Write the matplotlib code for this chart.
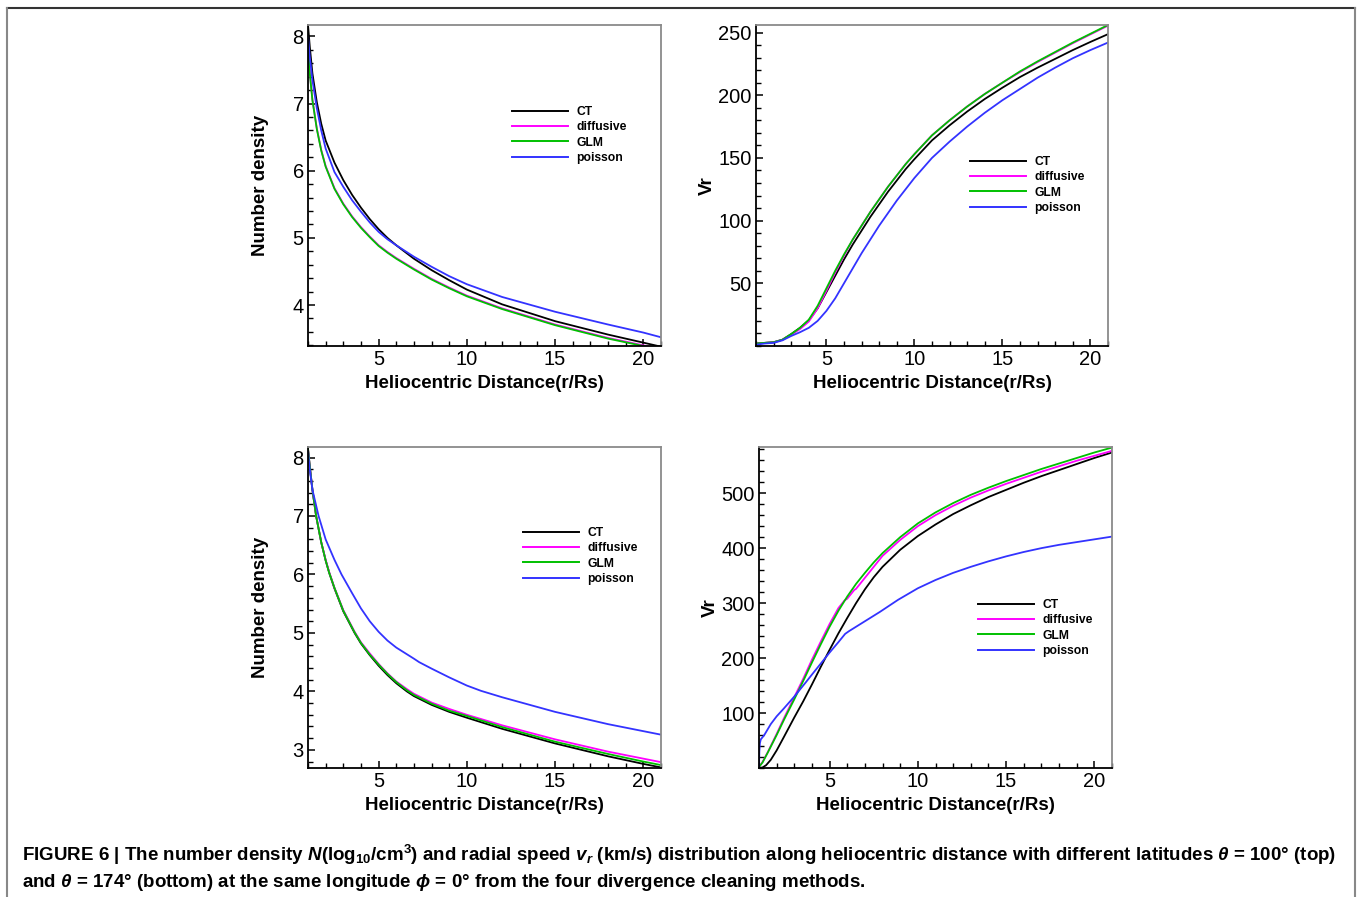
import matplotlib
matplotlib.use('Agg')
import matplotlib.pyplot as plt
from matplotlib.ticker import MultipleLocator, FixedLocator
from matplotlib.lines import Line2D

plt.rcParams['font.family'] = ['Liberation Sans', 'DejaVu Sans']
plt.rcParams['mathtext.fontset'] = 'custom'
plt.rcParams['mathtext.rm'] = 'Liberation Sans:bold'
plt.rcParams['mathtext.it'] = 'Liberation Sans:italic:bold'
plt.rcParams['mathtext.bf'] = 'Liberation Sans:bold'

methods = ['CT', 'diffusive', 'GLM', 'poisson']
colors = ['black', '#ff00ff', '#00c000', '#3333ff']

# ---- top left: number density, theta = 100
r_n100 = [1, 1.1, 1.25, 1.5, 1.75, 2, 2.5, 3, 3.5, 4, 4.5, 5, 5.5, 6, 7, 8, 9, 10, 12, 15, 18, 20, 21]
n100_ct = [8.17, 7.85, 7.45, 7.02, 6.7, 6.45, 6.12, 5.86, 5.64, 5.45, 5.28, 5.13, 5.0, 4.89, 4.69, 4.52, 4.37, 4.23, 4.01, 3.76, 3.56, 3.44, 3.38]
n100_di = [7.86, 7.46, 7.06, 6.63, 6.31, 6.07, 5.74, 5.51, 5.32, 5.16, 5.02, 4.89, 4.79, 4.70, 4.54, 4.39, 4.26, 4.14, 3.95, 3.71, 3.51, 3.40, 3.34]
n100_gl = [7.85, 7.45, 7.05, 6.62, 6.3, 6.06, 5.73, 5.5, 5.31, 5.15, 5.01, 4.88, 4.78, 4.69, 4.53, 4.38, 4.25, 4.13, 3.94, 3.7, 3.5, 3.39, 3.33]
n100_po = [8.0, 7.7, 7.35, 6.93, 6.6, 6.33, 5.98, 5.76, 5.56, 5.39, 5.23, 5.09, 4.98, 4.89, 4.72, 4.57, 4.43, 4.31, 4.12, 3.9, 3.71, 3.59, 3.52]

# ---- top right: radial speed, theta = 100
r_v100 = [1, 1.5, 2, 2.5, 3, 3.5, 4, 4.5, 5, 5.5, 6, 6.5, 7, 7.5, 8, 8.5, 9, 9.5, 10,
          11, 12, 13, 14, 15, 16, 17, 18, 19, 20, 21]
v100_ct = [2, 2.5, 3, 5, 9.5, 14.5, 20.5, 30, 43, 56, 69, 81, 92, 103, 113, 123, 132, 141, 149,
           164, 176, 187, 197, 206, 214.5, 222, 229, 236, 242.5, 248.7]
v100_di = [2, 2.5, 3, 5, 9, 13.5, 19.5, 30, 44, 58.5, 72, 85, 96, 107, 117, 127, 136, 145, 153,
           168, 180, 191, 201, 210, 218.5, 226.5, 234, 241.5, 248.5, 255.5]
v100_gl = [2, 2.5, 3, 5, 9.5, 14.5, 21, 32, 46, 60, 73, 85, 96, 107, 117, 127, 136, 145, 153,
           168, 180, 191, 201, 210, 219, 227, 234.5, 242, 249, 256]
v100_po = [1, 2, 2.5, 4.5, 8, 11, 14.5, 20, 28, 38, 50, 62, 74, 85, 96, 106, 116, 125, 134,
           150, 163, 175, 186, 196, 205, 214, 222, 229.5, 236, 242]

# ---- bottom left: number density, theta = 174
r_n174 = [1, 1.1, 1.25, 1.46, 1.75, 2, 2.2, 2.5, 3, 3.64, 4, 4.5, 5, 5.5, 6, 6.6, 7, 8, 9, 10, 12, 15, 18, 20, 21]
n174_ct = [8.15, 7.85, 7.45, 7.0, 6.55, 6.24, 6.03, 5.76, 5.37, 5.0, 4.82, 4.62, 4.44, 4.28, 4.14, 4.0, 3.92, 3.77, 3.65, 3.55, 3.36, 3.11, 2.89, 2.76, 2.70]
n174_di = [8.15, 7.85, 7.45, 7.0, 6.55, 6.25, 6.04, 5.77, 5.39, 5.02, 4.84, 4.65, 4.47, 4.31, 4.17, 4.04, 3.96, 3.81, 3.70, 3.60, 3.42, 3.18, 2.97, 2.85, 2.79]
n174_gl = [8.15, 7.85, 7.45, 7.0, 6.55, 6.24, 6.03, 5.77, 5.38, 5.01, 4.83, 4.63, 4.46, 4.30, 4.16, 4.02, 3.94, 3.79, 3.67, 3.58, 3.39, 3.14, 2.93, 2.80, 2.74]
r_n174_po = [1, 1.1, 1.25, 1.6, 2, 2.5, 2.9, 3.5, 4, 4.5, 5, 5.5, 6, 7, 7.3, 8, 9, 10, 10.8, 12, 15, 18, 20, 21]
n174_po = [8.1, 7.8, 7.45, 7.0, 6.6, 6.25, 6.0, 5.68, 5.42, 5.2, 5.02, 4.87, 4.75, 4.56, 4.5, 4.39, 4.24, 4.1, 4.01, 3.9, 3.65, 3.44, 3.32, 3.26]

# ---- bottom right: radial speed, theta = 174
r_v174_ct = [1, 1.2, 1.4, 1.67, 2, 2.42, 3, 3.5, 4, 4.5, 5, 5.5, 6, 6.5, 7, 7.5, 8, 9, 10,
             11, 12, 13, 14, 15, 16, 17, 18, 19, 20, 21]
v174_ct = [0, 1, 5, 15, 32, 57, 92, 121, 152, 184, 215, 245, 273, 300, 325, 347, 366, 397, 422,
           443, 462, 478, 493, 506, 519, 531, 542, 553, 564, 574]
r_v174_gl = [1, 1.2, 1.48, 2, 2.42, 3, 3.5, 4, 4.5, 5, 5.5, 6, 6.5, 7, 7.5, 8, 9, 10,
             11, 12, 13, 14, 15, 16, 17, 18, 19, 20, 21]
v174_gl = [2, 10, 27, 60, 88, 125, 158, 192, 225, 257, 286, 312, 335, 355, 374, 391, 420, 445,
           465, 482, 497, 510, 522, 533, 544, 554, 564, 574, 583]
r_v174_di = [1, 1.2, 1.5, 2, 2.42, 3, 3.5, 4, 4.5, 5, 5.5, 5.85, 6, 6.4, 6.5, 6.9, 7, 7.5, 8, 9, 10,
             11, 12, 13, 14, 15, 16, 17, 18, 19, 20, 21]
v174_di = [2, 11, 29, 62, 91, 129, 162, 197, 230, 262, 291, 305, 308, 324, 326, 342, 346, 366, 386, 415, 440,
           460, 477, 492, 505, 517, 528, 539, 549, 559, 568, 577]
r_v174_po = [1, 1.02, 1.05, 1.1, 1.3, 1.67, 2, 2.4, 3, 3.63, 4, 4.5, 5, 5.5, 5.88, 6.1, 6.3, 6.9, 7.85, 8.88,
             10, 11, 12, 13, 14, 15, 16, 17, 18, 19, 20, 21]
v174_po = [0, 30, 45, 52, 60, 80, 94, 108, 130, 155, 170, 190, 210, 229, 244, 249, 253, 265, 284, 306,
           327, 342, 355, 366, 376, 385, 393, 400, 406, 411, 416, 421]

W, H = 1362, 897
fig = plt.figure(figsize=(W / 100, H / 100), dpi=100)


def px_axes(left, top, right, bottom):
    return fig.add_axes([left / W, 1 - bottom / H, (right - left) / W, (bottom - top) / H])


def style(ax, ylim, yticks, yminor, ylabel, labelpad):
    ax.set_xlim(1, 21)
    ax.set_ylim(*ylim)
    ax.xaxis.set_major_locator(FixedLocator([5, 10, 15, 20]))
    ax.xaxis.set_minor_locator(MultipleLocator(1))
    ax.yaxis.set_major_locator(FixedLocator(yticks))
    ax.yaxis.set_minor_locator(MultipleLocator(yminor))
    ax.tick_params(which='both', direction='in', top=False, right=False, labelsize=14.5, pad=3)
    ax.tick_params(which='major', length=5, width=1.1)
    ax.tick_params(which='minor', length=3.5, width=1.0)
    for s in ['left', 'bottom']:
        ax.spines[s].set_color('black')
        ax.spines[s].set_linewidth(1.3)
    for s in ['top', 'right']:
        ax.spines[s].set_color('#8a8a8a')
        ax.spines[s].set_linewidth(1.3)
    ax.set_xlabel('Heliocentric Distance(r/Rs)', fontsize=13.5, fontweight='bold', labelpad=4.5)
    ax.set_ylabel(ylabel, fontsize=13.5, fontweight='bold', labelpad=labelpad)


def add_legend(ax, x, y):
    handles = [Line2D([], [], color=c, lw=1.4) for c in colors]
    ax.legend(handles, methods, loc='upper left', bbox_to_anchor=(x / W, 1 - y / H),
              bbox_transform=fig.transFigure, frameon=False, borderpad=0, borderaxespad=0,
              handlelength=4.6, handletextpad=0.75, labelspacing=0.27,
              prop={'size': 8.7, 'weight': 'bold'})


lw = 1.3

ax1 = px_axes(308, 25, 661, 346)
ax1.plot(r_n100, n100_ct, color=colors[0], lw=lw)
ax1.plot(r_n100, n100_di, color=colors[1], lw=lw)
ax1.plot(r_n100, n100_gl, color=colors[2], lw=lw)
ax1.plot(r_n100, n100_po, color=colors[3], lw=lw)
style(ax1, (3.39, 8.17), [4, 5, 6, 7, 8], 0.2, 'Number density', 17)
add_legend(ax1, 512, 106)

ax2 = px_axes(756, 25, 1108, 346)
ax2.plot(r_v100, v100_ct, color=colors[0], lw=lw)
ax2.plot(r_v100, v100_di, color=colors[1], lw=lw)
ax2.plot(r_v100, v100_gl, color=colors[2], lw=lw)
ax2.plot(r_v100, v100_po, color=colors[3], lw=lw)
style(ax2, (0, 256), [50, 100, 150, 200, 250], 10, 'Vr', 2)
add_legend(ax2, 970, 156)

ax3 = px_axes(308, 447, 661, 768)
ax3.plot(r_n174, n174_ct, color=colors[0], lw=lw)
ax3.plot(r_n174, n174_di, color=colors[1], lw=lw)
ax3.plot(r_n174, n174_gl, color=colors[2], lw=lw)
ax3.plot(r_n174_po, n174_po, color=colors[3], lw=lw)
style(ax3, (2.69, 8.18), [3, 4, 5, 6, 7, 8], 0.2, 'Number density', 17)
add_legend(ax3, 523, 527)

ax4 = px_axes(759, 447, 1112, 768)
ax4.plot(r_v174_ct, v174_ct, color=colors[0], lw=lw)
ax4.plot(r_v174_di, v174_di, color=colors[1], lw=lw)
ax4.plot(r_v174_gl, v174_gl, color=colors[2], lw=lw)
ax4.plot(r_v174_po, v174_po, color=colors[3], lw=lw)
style(ax4, (0, 584), [100, 200, 300, 400, 500], 20, 'Vr', 2)
add_legend(ax4, 978, 599)

# outer frame
fig.add_artist(Line2D([7 / W, 1355 / W], [1 - 8 / H, 1 - 8 / H], color='#333333', lw=1.5))
fig.add_artist(Line2D([7 / W, 7 / W], [1 - 8 / H, 0], color='#888888', lw=1.5))
fig.add_artist(Line2D([1355 / W, 1355 / W], [1 - 8 / H, 0], color='#888888', lw=1.5))

cap1 = (r'FIGURE 6 | The number density $N$(log$_{10}$/cm$^3$) and radial speed $v_r$ (km/s) '
        r'distribution along heliocentric distance with different latitudes $\theta$ = 100° (top)')
cap2 = r'and $\theta$ = 174° (bottom) at the same longitude $\phi$ = 0° from the four divergence cleaning methods.'
fig.text(22 / W, 1 - 861 / H, cap1, fontsize=13.5, fontweight='bold', va='baseline')
fig.text(22 / W, 1 - 887 / H, cap2, fontsize=13.5, fontweight='bold', va='baseline')

fig.savefig('out.png', dpi=100)
